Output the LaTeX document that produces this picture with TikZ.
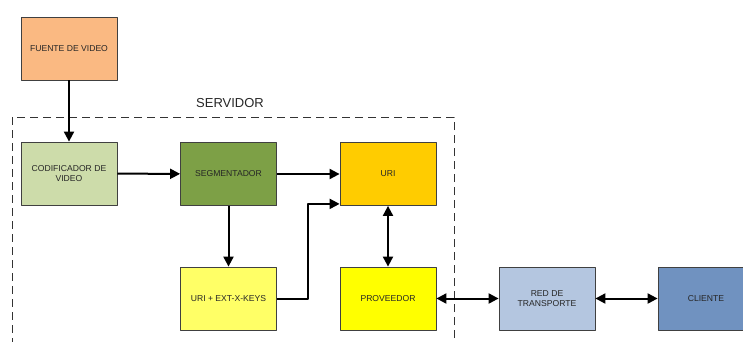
\documentclass[tikz,border=0pt]{standalone}
\usepackage{fontspec}
\setmainfont{Liberation Sans}
\usetikzlibrary{arrows.meta}
\definecolor{cfuente}{RGB}{250,185,130}
\definecolor{ccodif}{RGB}{205,220,170}
\definecolor{csegm}{RGB}{125,160,70}
\definecolor{curi}{RGB}{255,204,0}
\definecolor{curiext}{RGB}{255,255,102}
\definecolor{cprov}{RGB}{255,255,0}
\definecolor{cred}{RGB}{180,198,224}
\definecolor{ccliente}{RGB}{112,146,192}
\begin{document}
\begin{tikzpicture}[x=1pt,y=1pt,line join=round,
	caja/.style={draw=black!75,line width=0.8pt,minimum width=96pt,minimum height=63pt,
		align=center,text=black!85,font=\fontsize{8.6}{10}\selectfont,inner sep=2pt},
	flecha/.style={line width=2pt,-{Triangle[length=10pt,width=10pt]}},
	dflecha/.style={line width=2pt,{Triangle[length=10pt,width=10pt]}-{Triangle[length=10pt,width=10pt]}}]
	\useasboundingbox (0,0) rectangle (743,341);
	\clip (0,0) rectangle (743,341);
	% servidor
	\draw[black!80,line width=0.8pt,dash pattern=on 8pt off 5pt] (12,224) rectangle (454,-10);
	\node[font=\fontsize{13}{15}\selectfont,text=black!85] (servidor) at (230,238) {SERVIDOR};
	% cajas
	\node[caja,fill=cfuente] (fuente) at (69,292.5) {FUENTE DE VIDEO};
	\node[caja,fill=ccodif] (codif) at (69,167.5) {CODIFICADOR DE\\VIDEO};
	\node[caja,fill=csegm] (segm) at (228.5,167) {SEGMENTADOR};
	\node[caja,fill=curi] (uri) at (388,167) {URI};
	\node[caja,fill=curiext] (uriext) at (228.5,42.5) {URI + EXT-X-KEYS};
	\node[caja,fill=cprov] (prov) at (388,42.5) {PROVEEDOR};
	\node[caja,fill=cred] (red) at (547,42.5) {RED DE\\TRANSPORTE};
	\node[caja,fill=ccliente] (cliente) at (706,42.5) {CLIENTE};
	% conexiones
	\draw[flecha] (fuente) -- (codif);
	\draw[flecha] (codif) -- (segm);
	\draw[flecha] (segm) -- (uri);
	\draw[flecha] (segm) -- (uriext);
	\draw[flecha] (uriext.east) -- ++(31,0) |- ([yshift=2pt]uri.south west);
	\draw[dflecha] (uri) -- (prov);
	\draw[dflecha] (prov) -- (red);
	\draw[dflecha] (red) -- (cliente);
\end{tikzpicture}
\end{document}
